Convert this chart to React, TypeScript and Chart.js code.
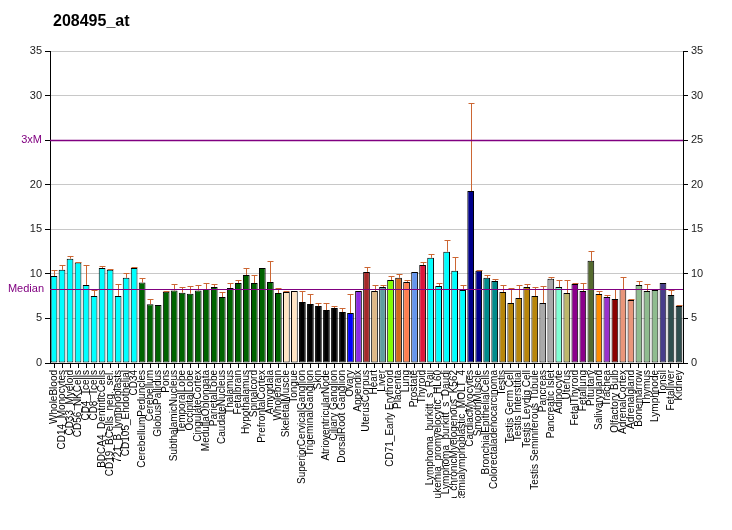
import React, { useEffect, useRef } from "react";
import { Chart, registerables } from "chart.js";

Chart.register(...registerables);

const title = "208495_at";

const labels = [
  "WholeBlood", "CD14_Monocytes", "CD33_Myeloid", "CD56_NKCells", "CD4_Tcells", "CD8_Tcells",
  "BDCA4_DentriticCells", "CD19_BCells_neg._sel.", "721_B_lymphoblasts", "CD105_Endothelial", "CD34",
  "CerebellumPeduncles", "Cerebellum", "GlobusPallidus", "Pons", "SubthalamicNucleus", "TemporalLobe",
  "OccipitalLobe", "CingulateCortex", "MedullaOblongata", "ParietalLobe", "CaudateNucleus", "Thalamus",
  "Fetalbrain", "Hypothalamus", "Spinalcord", "PrefrontalCortex", "Amygdala", "Wholebrain",
  "SkeletalMuscle", "Tongue", "SuperiorCervicalGanglion", "TrigeminalGanglion", "Skin",
  "AtrioventricularNode", "Ciliary Ganglion", "DorsalRoot Ganglion", "Ovary", "Appendix", "UterusCorpus",
  "Heart", "Liver", "CD71_Early Erythroid", "Placenta", "Lung", "Prostate", "Thyroid",
  "Lymphoma_burkitt_s_Raji", "Leukemia_promyelocytic_HL60", "Lymphoma_burkitt_s_Daudi",
  "Leukemia_chronicMyelogenous_K562", "Leukemialymphoblastic_MOLT_4", "CardiacMyocytes", "SmoothMuscle",
  "BronchialEpithelialCells", "Colorectaladenocarcinoma", "Testis", "Testis Germ Cell", "Testis Interstitial",
  "Testis Leydig Cell", "Testis Seminiferous Tubule", "Pancreas", "Pancreatic Islet", "Adipocyte", "Uterus",
  "FetalThyroid", "Fetallung", "Pituitary", "Salivarygland", "Trachea", "Olfactory Bulb", "AdrenalCortex",
  "Adrenalgland", "Bonemarrow", "Thymus", "Lymphnode", "Tonsil", "Fetalliver", "Kidney",
];

const values = [
  9.77, 10.45, 11.7, 11.27, 8.76, 7.52, 10.67, 10.45, 7.52, 9.55, 10.67,
  9.02, 6.6, 6.5, 8.0, 8.12, 7.89, 7.78, 8.12, 8.3, 8.53, 7.4, 8.42, 8.98, 9.88, 8.98, 10.67, 9.1, 7.85,
  7.97, 8.08, 6.84, 6.62, 6.39, 5.94, 6.17, 5.72, 5.6, 8.08, 10.22,
  8.08, 8.53, 9.32, 9.55, 9.1, 10.22, 11.0, 11.8, 8.65, 12.48, 10.34, 8.2, 19.3, 10.34, 9.55, 9.21,
  7.97, 6.73, 7.29, 8.53, 7.52, 6.73, 9.44, 8.53, 7.85, 8.87, 8.08, 11.46, 7.74, 7.4, 7.18, 8.3, 7.07,
  8.76, 8.08, 8.2, 8.98, 7.63, 6.39,
];

const upper = [
  10.4, 11.0, 12.0, 11.35, 11.0, 8.23, 10.86, 10.56, 8.87, 10.1, 10.78,
  9.55, 7.18, 6.5, 8.12, 8.87, 8.53, 8.65, 8.76, 8.98, 8.87, 7.97, 8.98, 9.32, 10.67, 9.88, 10.67, 11.46, 8.38,
  8.05, 8.08, 8.08, 7.74, 6.73, 6.73, 6.39, 6.17, 7.74, 8.08, 10.79,
  8.72, 8.72, 9.77, 10.0, 9.32, 10.22, 11.35, 12.25, 8.98, 13.83, 11.92, 8.72, 29.2, 10.45, 9.88, 9.44,
  8.72, 8.42, 8.72, 8.87, 8.53, 8.65, 9.66, 9.32, 9.32, 8.98, 8.98, 12.59, 8.08, 7.63, 8.3, 9.66, 7.18,
  9.21, 8.87, 8.2, 8.98, 8.2, 6.5,
];

const colors = [
  ...Array(11).fill("#00FFFF"),
  ...Array(18).fill("#006400"),
  "#FFE4C4", "#FFE4C4",
  ...Array(6).fill("#000000"),
  "#0000FF", "#8A2BE2", "#A52A2A", "#DEB887", "#5F9EA0", "#7FFF00", "#D2691E", "#FF7F50", "#6495ED", "#DC143C",
  ...Array(5).fill("#00FFFF"),
  "#00008B", "#00008B", "#008B8B", "#008B8B",
  ...Array(5).fill("#B8860B"),
  "#A9A9A9", "#A9A9A9", "#7FFFD4", "#BDB76B", "#8B008B", "#8B008B", "#556B2F", "#FF8C00", "#9932CC", "#8B0000",
  "#E9967A", "#E9967A", "#8FBC8F", "#8FBC8F", "#8FBC8F", "#483D8B", "#2F4F4F", "#2F4F4F",
];

const median = 8.3;
const threeXM = 25;
const yTicks = [0, 5, 10, 15, 20, 25, 30, 35];

const PURPLE = "#800080";
const ERR = "#CC6633";
const FONT = "'Liberation Sans', Arial, sans-serif";

const overlay = {
  id: "overlay",
  afterDatasetsDraw(chart: any) {
    const { ctx, chartArea } = chart;
    const xs = chart.scales.x;
    const ys = chart.scales.y;
    ctx.save();
    // error bars
    ctx.strokeStyle = ERR;
    ctx.lineWidth = 1;
    for (let i = 0; i < values.length; i++) {
      if (upper[i] <= values[i]) continue;
      const x = Math.round(xs.getPixelForValue(i)) + 0.5;
      const y0 = ys.getPixelForValue(values[i]);
      const y1 = Math.round(ys.getPixelForValue(upper[i])) + 0.5;
      ctx.beginPath();
      ctx.moveTo(x, y0);
      ctx.lineTo(x, y1);
      ctx.moveTo(x - 3, y1);
      ctx.lineTo(x + 3, y1);
      ctx.stroke();
    }
    // median and 3xM lines
    ctx.strokeStyle = PURPLE;
    for (const v of [median, threeXM]) {
      const y = Math.round(ys.getPixelForValue(v)) + 0.5;
      ctx.lineWidth = v === threeXM ? 1.5 : 1;
      ctx.beginPath();
      ctx.moveTo(chartArea.left, y);
      ctx.lineTo(chartArea.right, y);
      ctx.stroke();
    }
    ctx.fillStyle = PURPLE;
    ctx.font = `11px ${FONT}`;
    ctx.textAlign = "right";
    ctx.textBaseline = "middle";
    ctx.fillText("Median", chartArea.left - 6, ys.getPixelForValue(median));
    ctx.restore();
  },
  afterDraw(chart: any) {
    const { ctx } = chart;
    ctx.save();
    // clip long category labels like the reference
    ctx.fillStyle = "#FFFFFF";
    ctx.fillRect(0, 498, chart.width, chart.height - 498);
    // title
    ctx.fillStyle = "#000000";
    ctx.font = `bold 16px ${FONT}`;
    ctx.textAlign = "left";
    ctx.textBaseline = "alphabetic";
    ctx.fillText(title, 53, 26);
    ctx.restore();
  },
};

export default function App() {
  const ref = useRef<HTMLCanvasElement>(null);
  useEffect(() => {
    document.body.style.margin = "0";
    const canvas = ref.current!;
    const chart = new Chart(canvas, {
      type: "bar",
      data: {
        labels,
        datasets: [
          {
            data: values,
            backgroundColor: colors,
            borderColor: "#000000",
            borderWidth: 1,
            borderSkipped: false,
            barPercentage: 0.84,
            categoryPercentage: 1.0,
          },
        ],
      },
      options: {
        animation: false,
        responsive: false,
        maintainAspectRatio: false,
        devicePixelRatio: 1,
        layout: { padding: { top: 51, left: 0, right: 0, bottom: 0 } },
        plugins: { legend: { display: false }, tooltip: { enabled: false }, title: { display: false } },
        scales: {
          x: {
            type: "category",
            offset: true,
            grid: { display: true, drawOnChartArea: false, offset: false, tickLength: 5, tickColor: "#000000", color: "#000000" },
            border: { display: true, color: "#000000" },
            ticks: {
              autoSkip: false,
              maxRotation: 90,
              minRotation: 90,
              padding: 2,
              color: "#000000",
              font: { size: 10, family: FONT },
            },
            afterFit: (s: any) => { s.height = 167; },
          },
          y: {
            position: "left",
            min: 0,
            max: 35,
            afterBuildTicks: (s: any) => { s.ticks = yTicks.map((v) => ({ value: v })); },
            grid: { color: "#C8C8C8", tickColor: "#000000", tickLength: 5 },
            border: { display: true, color: "#000000" },
            ticks: {
              padding: 3,
              font: { size: 11, family: FONT },
              color: (c: any) => (c.tick && c.tick.value === threeXM ? PURPLE : "#222222"),
              callback: (v: any) => (v === threeXM ? "3xM" : String(v)),
            },
            afterFit: (s: any) => { s.width = 50; },
          },
          y2: {
            position: "right",
            display: true,
            min: 0,
            max: 35,
            afterBuildTicks: (s: any) => { s.ticks = yTicks.map((v) => ({ value: v })); },
            grid: { drawOnChartArea: false, tickColor: "#000000", tickLength: 5, color: "#000000" },
            border: { display: true, color: "#000000" },
            ticks: { padding: 3, font: { size: 11, family: FONT }, color: "#222222" },
            afterFit: (s: any) => { s.width = 49; },
          },
        },
      } as any,
      plugins: [overlay],
    });
    return () => chart.destroy();
  }, []);
  return (
    <div style={{ position: "absolute", left: 0, top: 0, width: 732, height: 530 }}>
      <canvas ref={ref} width={732} height={530} style={{ width: 732, height: 530 }} />
    </div>
  );
}
